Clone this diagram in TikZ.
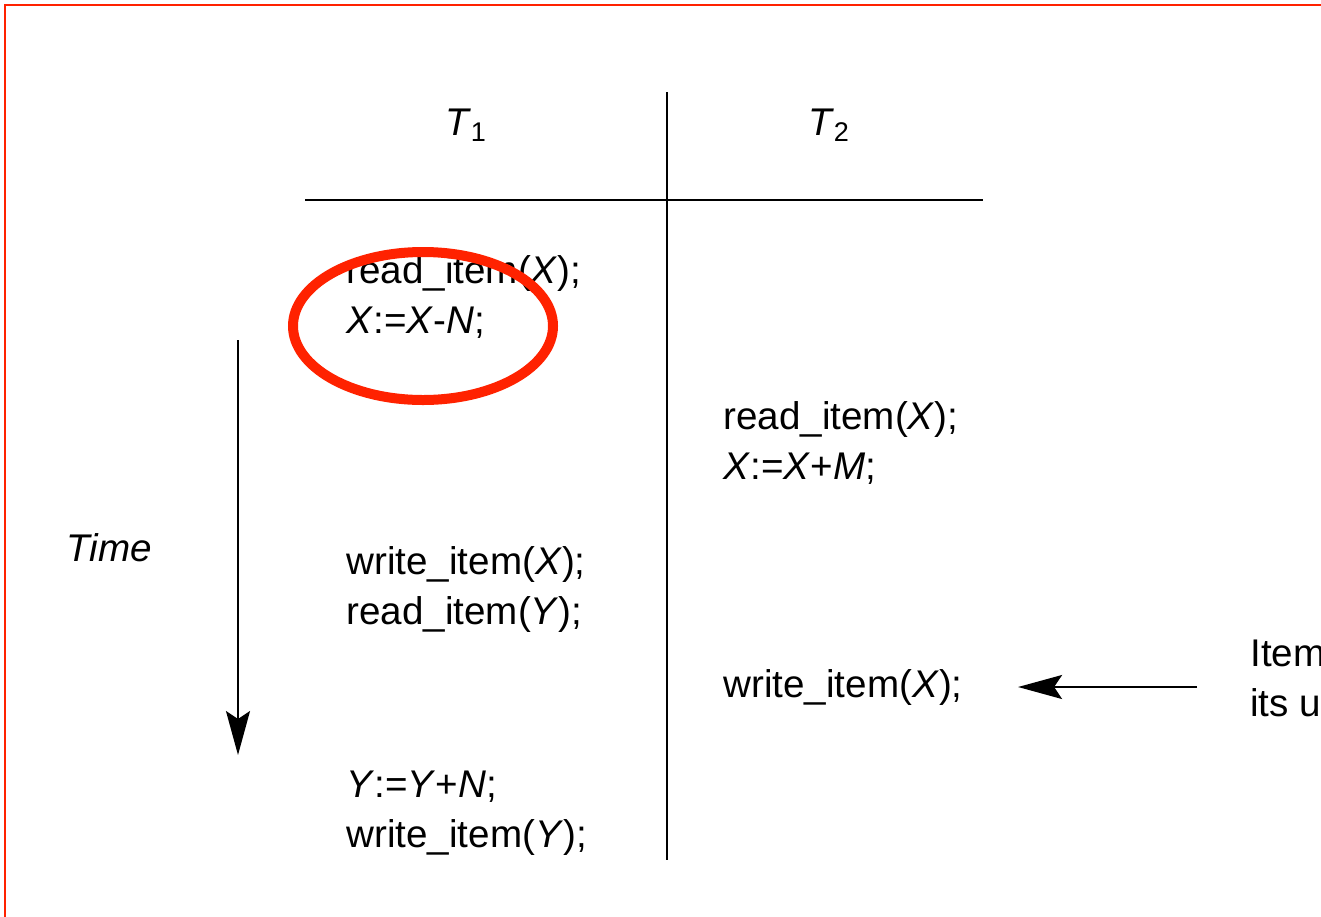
\documentclass[tikz,border=0pt]{standalone}
\usepackage{fontspec}
\setmainfont{Liberation Sans}
\usepackage{xcolor}
\usepackage{tikz}
\usetikzlibrary{positioning,arrows.meta}
\newcommand{\vr}[1]{\textit{#1}}
\definecolor{hilite}{RGB}{255,34,0}

\begin{document}
\begin{tikzpicture}[
  x=0.5pt,y=-0.5pt,
  font=\fontsize{19.3}{25}\selectfont,
  op/.style={anchor=west,align=left,inner sep=0pt},
  hd/.style={inner sep=0pt},
  rule/.style={line width=0.8pt},
  >={Stealth[length=22pt,width=12pt,inset=4pt]}
]
\useasboundingbox (0,0) rectangle (1321,916);
\draw[hilite,line width=1pt] (4.5,930) -- (4.5,5) -- (1330,5);

\node[hd] (t1) at (466,125) {\vr{T}\textsubscript{1}};
\node[hd] (t2) at (829,125) {\vr{T}\textsubscript{2}};
\draw[rule] (305,200) -- (983,200);
\draw[rule] (667,92) -- (667,860);

\node[op] (a1) at (346,297) {read\_item(\vr{X});\\\vr{X}:=\vr{X}-\vr{N};};
\node[op] (a2) at (346,589) {write\_item(\vr{X});\\read\_item(\vr{Y});};
\node[op] (a3) at (346,813) {\vr{Y}:=\vr{Y}+\vr{N};\\write\_item(\vr{Y});};
\node[op] (b1) at (723,443) {read\_item(\vr{X});\\\vr{X}:=\vr{X}+\vr{M};};
\node[op] (b2) at (723,687) {write\_item(\vr{X});};

\node[hd] (time) at (109,548) {\vr{Time}};
\coordinate (ts) at (238,340);
\coordinate (te) at (238,755);
\draw[->,line width=1pt] (ts) -- (te);

\node[op] (lost) at (1250,682) {Item\\its up};
\draw[->,line width=1pt,shorten <=26.5pt,shorten >=27.5pt] (lost.west |- b2.east) -- (b2.east);

% lost update marked
\draw[hilite,line width=5pt] (423,326) ellipse [x radius=130,y radius=74];
\end{tikzpicture}
\end{document}
